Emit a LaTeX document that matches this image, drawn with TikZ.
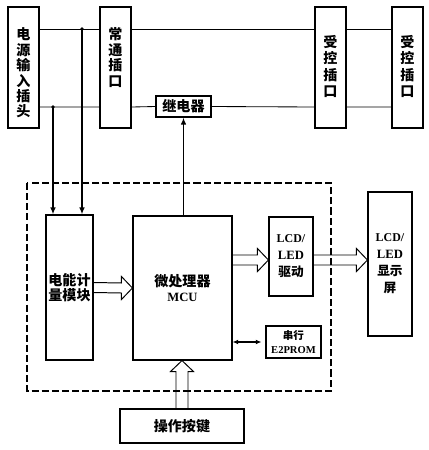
\documentclass[tikz,border=0pt]{standalone}
\usepackage{fontspec}
\setmainfont{Liberation Serif}
\newfontfamily\cjk{Noto Sans CJK SC}
\usetikzlibrary{arrows.meta,calc}

\tikzset{
  box/.style={draw, line width=0.8pt, inner sep=0pt, align=center},
  sz/.style 2 args={minimum width=#1*0.025cm, minimum height=#2*0.025cm},
  cn/.style={font=\cjk\bfseries\fontsize{10}{11}\selectfont, align=center},
  en/.style={font=\bfseries\fontsize{9}{12}\selectfont, align=center},
  wire/.style={line width=0.6pt},
  sig/.style={line width=1.1pt, -{Latex[length=5pt,width=4pt]}},
  fat/.style={line width=0.7pt},
}
% hollow block arrows
\newcommand{\fatright}[2]{%
  \draw[fat] ($(#1)+(0,-5)$) -- ($(#2)+(-11,-5)$) -- ($(#2)+(-11,-11.5)$) -- (#2)
    -- ($(#2)+(-11,11.5)$) -- ($(#2)+(-11,5)$) -- ($(#1)+(0,5)$);}
\newcommand{\fatup}[2]{%
  \draw[fat] ($(#1)+(-6,0)$) -- ($(#2)+(-6,11)$) -- ($(#2)+(-11.5,11)$) -- (#2)
    -- ($(#2)+(11.5,11)$) -- ($(#2)+(6,11)$) -- ($(#1)+(6,0)$);}

\begin{document}
\begin{tikzpicture}[x=0.025cm, y=-0.025cm]
    \useasboundingbox (0,0) rectangle (429,450);
    % Sockets
    \node[box, sz={31}{121}] (pin) at (23.5,67.5) {};
    \node[box, sz={31}{121}] (normal) at (115.5,67.5) {};
    \node[box, sz={31}{121}] (ctrla) at (330.5,67.5) {};
    \node[box, sz={31}{121}] (ctrlb) at (407.5,67.5) {};
    \node[cn] (pin-t) at (23.5,73) {电\\源\\输\\入\\插\\头};
    \node[cn] (normal-t) at (115.5,57.5) {常\\通\\插\\口};
    \node[cn, font=\cjk\bfseries\fontsize{10}{11.7}\selectfont] (ctrla-t) at (330.5,66.5) {受\\控\\插\\口};
    \node[cn, font=\cjk\bfseries\fontsize{10}{11.7}\selectfont] (ctrlb-t) at (407.5,66.5) {受\\控\\插\\口};
    \node[box, cn, sz={55}{21}] (relay) at (183.5,106.5) {继电器};
    % Mains wires
    \coordinate (wt) at (0,29);
    \coordinate (wb) at (0,107);
    \draw[wire] (pin.east |- wt) -- (normal.west |- wt)
                (normal.east |- wt) -- (ctrla.west |- wt)
                (ctrla.east |- wt) -- (ctrlb.west |- wt);
    \draw[wire] (pin.east |- wb) -- (normal.west |- wb)
                (normal.east |- wb) -- (relay.west)
                (relay.east) -- (ctrla.west |- wb)
                (ctrla.east |- wb) -- (ctrlb.west |- wb);
    % Control board
    \draw[line width=1.4pt, dash pattern=on 5pt off 2.2pt] (27,183) rectangle (331,391);
    \node[box, cn, sz={47}{145}] (meter) at (69.5,287.5) {电能计\\量模块};
    \node[box, en, sz={99}{144}] (mcu) at (182.5,288)
        {{\cjk\fontsize{10}{10}\selectfont 微处理器}\\[-1pt]MCU};
    \node[box, en, sz={44}{79}] (drv) at (291,256.5)
        {{\fontsize{8.5}{12}\selectfont LCD/}\\LED\\{\cjk 驱动}};
    \node[box, en, sz={44}{144}] (disp) at (390,264)
        {{\fontsize{8.5}{12}\selectfont LCD/}\\LED\\{\cjk 显示}\\{\cjk 屏}};
    \node[box, en, sz={55}{32}] (eep) at (293.5,342)
        {{\cjk\fontsize{7.5}{9}\selectfont 串行}\\[-2pt]{\fontsize{7.5}{9}\selectfont E2PROM}};
    \node[box, cn, sz={124}{34}] (keys) at (182,426) {操作按键};
    % Sampling and relay control
    \coordinate (j1) at (82,29);
    \coordinate (j2) at (53,107);
    \fill (j1) circle (1.8);
    \fill (j2) circle (1.8);
    \draw[sig] (j1) -- (j1 |- meter.north);
    \draw[sig] (j2) -- (j2 |- meter.north);
    \draw[sig] (relay.south |- mcu.north) -- (relay.south);
    \draw[line width=1pt, {Latex[length=4pt,width=3.5pt]}-{Latex[length=4pt,width=3.5pt]}]
        (mcu.east |- eep.west) -- ($(eep.west)+(-4,0)$);
    % Data paths
    \coordinate (lcd) at (0,260);
    \fatright{meter.east}{mcu.west}
    \fatright{mcu.east |- lcd}{drv.west |- lcd}
    \fatright{drv.east |- lcd}{disp.west |- lcd}
    \fatup{keys.north}{keys.north |- mcu.south}
\end{tikzpicture}
\end{document}
